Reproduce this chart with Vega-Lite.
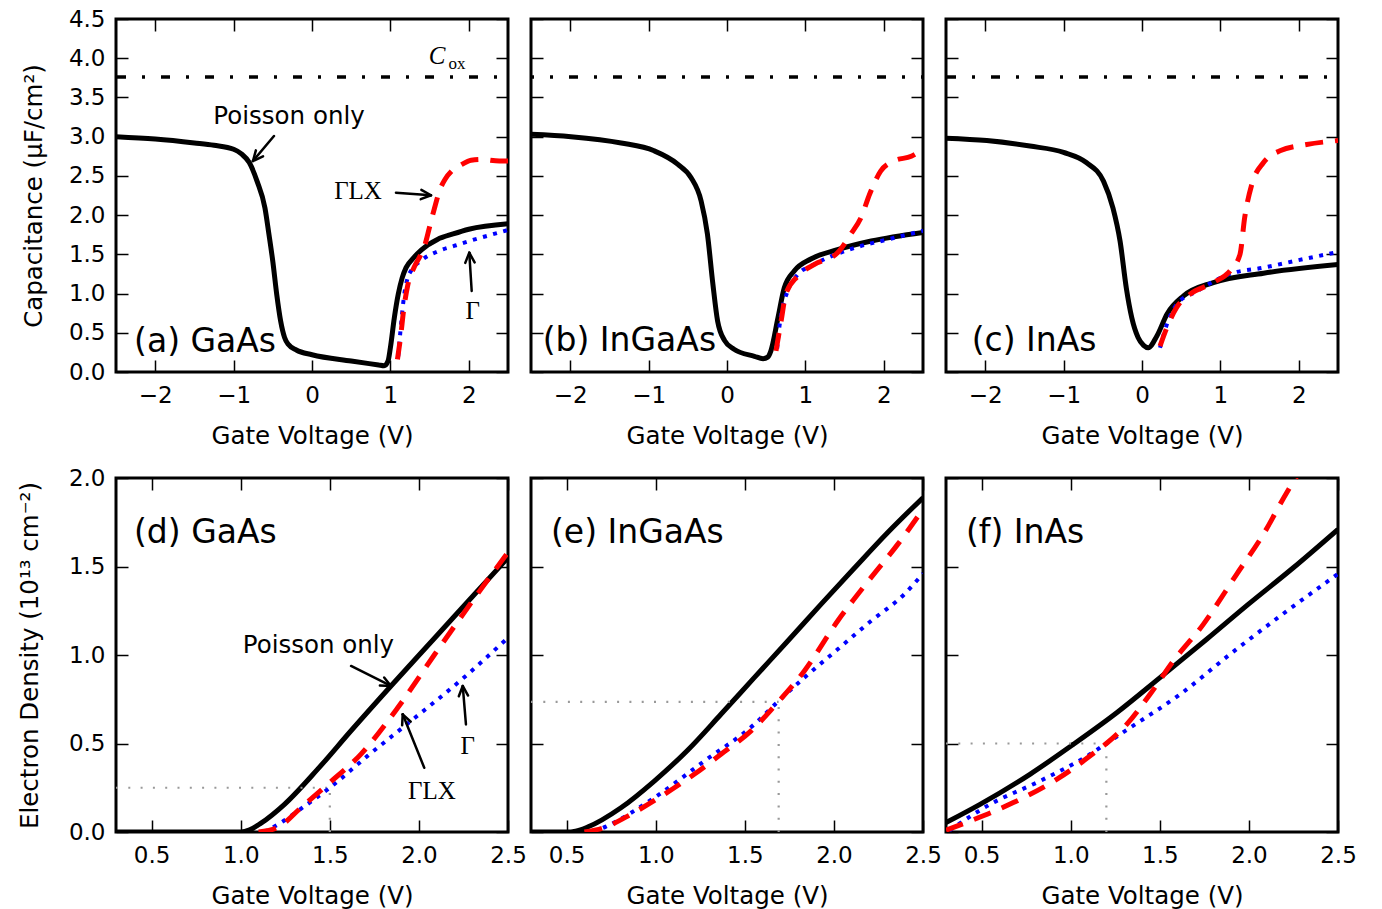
{
"$schema":"https://vega.github.io/schema/vega-lite/v6.json",
"background":"white",
"padding":{"left":15,"top":6,"right":0,"bottom":0},
"config":{
 "view":{"stroke":"black","strokeWidth":3},
 "axis":{"domain":false,"grid":false,"tickColor":"black","tickWidth":1.5,"tickSize":-12,"labelFont":"DejaVu Sans","labelFontSize":23,"labelColor":"black","titleFont":"DejaVu Sans","titleFontSize":24.5,"titleFontWeight":"normal","titleColor":"black","labelFlush":false,"labelOverlap":false,"labelBound":false,"labelSeparation":0},
 "axisX":{"labelPadding":24,"titlePadding":17},
 "axisY":{"labelPadding":23,"titlePadding":22},
 "text":{"font":"DejaVu Sans","color":"black"}
},
"datasets":{
 "curves":[
  {"p":"a","m":"P","v":-2.5,"y":3.0},{"p":"a","m":"P","v":-2.0,"y":2.97},{"p":"a","m":"P","v":-1.5,"y":2.92},{"p":"a","m":"P","v":-1.25,"y":2.89},{"p":"a","m":"P","v":-1.0,"y":2.84},{"p":"a","m":"P","v":-0.9,"y":2.78},{"p":"a","m":"P","v":-0.8,"y":2.67},{"p":"a","m":"P","v":-0.7,"y":2.43},{"p":"a","m":"P","v":-0.6,"y":2.09},{"p":"a","m":"P","v":-0.55,"y":1.76},{"p":"a","m":"P","v":-0.5,"y":1.41},{"p":"a","m":"P","v":-0.45,"y":0.99},{"p":"a","m":"P","v":-0.4,"y":0.65},{"p":"a","m":"P","v":-0.35,"y":0.44},{"p":"a","m":"P","v":-0.3,"y":0.35},{"p":"a","m":"P","v":-0.2,"y":0.28},{"p":"a","m":"P","v":0.0,"y":0.22},{"p":"a","m":"P","v":0.5,"y":0.14},{"p":"a","m":"P","v":0.85,"y":0.09},{"p":"a","m":"P","v":0.92,"y":0.08},{"p":"a","m":"P","v":0.97,"y":0.14},{"p":"a","m":"P","v":1.0,"y":0.31},{"p":"a","m":"P","v":1.05,"y":0.69},{"p":"a","m":"P","v":1.1,"y":0.99},{"p":"a","m":"P","v":1.15,"y":1.2},{"p":"a","m":"P","v":1.2,"y":1.33},{"p":"a","m":"P","v":1.3,"y":1.46},{"p":"a","m":"P","v":1.4,"y":1.56},{"p":"a","m":"P","v":1.6,"y":1.69},{"p":"a","m":"P","v":1.8,"y":1.76},{"p":"a","m":"P","v":2.0,"y":1.82},{"p":"a","m":"P","v":2.5,"y":1.89},
  {"p":"a","m":"L","v":1.09,"y":0.16},{"p":"a","m":"L","v":1.13,"y":0.45},{"p":"a","m":"L","v":1.17,"y":0.8},{"p":"a","m":"L","v":1.22,"y":1.1},{"p":"a","m":"L","v":1.3,"y":1.33},{"p":"a","m":"L","v":1.38,"y":1.48},{"p":"a","m":"L","v":1.44,"y":1.62},{"p":"a","m":"L","v":1.5,"y":1.85},{"p":"a","m":"L","v":1.56,"y":2.08},{"p":"a","m":"L","v":1.63,"y":2.32},{"p":"a","m":"L","v":1.7,"y":2.46},{"p":"a","m":"L","v":1.79,"y":2.57},{"p":"a","m":"L","v":1.9,"y":2.64},{"p":"a","m":"L","v":2.03,"y":2.7},{"p":"a","m":"L","v":2.16,"y":2.71},{"p":"a","m":"L","v":2.39,"y":2.69},{"p":"a","m":"L","v":2.5,"y":2.69},
  {"p":"a","m":"G","v":1.1,"y":0.2},{"p":"a","m":"G","v":1.126,"y":0.5},{"p":"a","m":"G","v":1.177,"y":0.99},{"p":"a","m":"G","v":1.22,"y":1.2},{"p":"a","m":"G","v":1.27,"y":1.3},{"p":"a","m":"G","v":1.39,"y":1.42},{"p":"a","m":"G","v":1.61,"y":1.54},{"p":"a","m":"G","v":1.82,"y":1.61},{"p":"a","m":"G","v":2.04,"y":1.68},{"p":"a","m":"G","v":2.25,"y":1.74},{"p":"a","m":"G","v":2.5,"y":1.81},
  {"p":"b","m":"P","v":-2.5,"y":3.03},{"p":"b","m":"P","v":-1.99,"y":3.0},{"p":"b","m":"P","v":-1.35,"y":2.92},{"p":"b","m":"P","v":-0.93,"y":2.82},{"p":"b","m":"P","v":-0.63,"y":2.65},{"p":"b","m":"P","v":-0.46,"y":2.48},{"p":"b","m":"P","v":-0.33,"y":2.18},{"p":"b","m":"P","v":-0.25,"y":1.76},{"p":"b","m":"P","v":-0.18,"y":1.12},{"p":"b","m":"P","v":-0.12,"y":0.65},{"p":"b","m":"P","v":-0.03,"y":0.4},{"p":"b","m":"P","v":0.09,"y":0.29},{"p":"b","m":"P","v":0.35,"y":0.2},{"p":"b","m":"P","v":0.46,"y":0.17},{"p":"b","m":"P","v":0.52,"y":0.19},{"p":"b","m":"P","v":0.56,"y":0.27},{"p":"b","m":"P","v":0.65,"y":0.69},{"p":"b","m":"P","v":0.73,"y":1.07},{"p":"b","m":"P","v":0.86,"y":1.29},{"p":"b","m":"P","v":1.07,"y":1.44},{"p":"b","m":"P","v":1.41,"y":1.56},{"p":"b","m":"P","v":1.84,"y":1.67},{"p":"b","m":"P","v":2.5,"y":1.78},
  {"p":"b","m":"L","v":0.625,"y":0.27},{"p":"b","m":"L","v":0.69,"y":0.65},{"p":"b","m":"L","v":0.75,"y":0.99},{"p":"b","m":"L","v":0.9,"y":1.22},{"p":"b","m":"L","v":1.11,"y":1.37},{"p":"b","m":"L","v":1.41,"y":1.52},{"p":"b","m":"L","v":1.58,"y":1.76},{"p":"b","m":"L","v":1.71,"y":1.97},{"p":"b","m":"L","v":1.82,"y":2.27},{"p":"b","m":"L","v":1.96,"y":2.56},{"p":"b","m":"L","v":2.13,"y":2.69},{"p":"b","m":"L","v":2.35,"y":2.75},{"p":"b","m":"L","v":2.5,"y":2.84},
  {"p":"b","m":"G","v":0.64,"y":0.3},{"p":"b","m":"G","v":0.67,"y":0.59},{"p":"b","m":"G","v":0.79,"y":1.07},{"p":"b","m":"G","v":0.9,"y":1.24},{"p":"b","m":"G","v":1.11,"y":1.37},{"p":"b","m":"G","v":1.62,"y":1.58},{"p":"b","m":"G","v":2.05,"y":1.69},{"p":"b","m":"G","v":2.5,"y":1.8},
  {"p":"c","m":"P","v":-2.5,"y":2.98},{"p":"c","m":"P","v":-1.98,"y":2.95},{"p":"c","m":"P","v":-1.43,"y":2.88},{"p":"c","m":"P","v":-1.0,"y":2.8},{"p":"c","m":"P","v":-0.71,"y":2.67},{"p":"c","m":"P","v":-0.49,"y":2.43},{"p":"c","m":"P","v":-0.37,"y":2.09},{"p":"c","m":"P","v":-0.28,"y":1.67},{"p":"c","m":"P","v":-0.2,"y":1.07},{"p":"c","m":"P","v":-0.13,"y":0.69},{"p":"c","m":"P","v":-0.05,"y":0.44},{"p":"c","m":"P","v":0.02,"y":0.34},{"p":"c","m":"P","v":0.08,"y":0.31},{"p":"c","m":"P","v":0.19,"y":0.46},{"p":"c","m":"P","v":0.32,"y":0.74},{"p":"c","m":"P","v":0.53,"y":0.97},{"p":"c","m":"P","v":0.91,"y":1.14},{"p":"c","m":"P","v":1.55,"y":1.26},{"p":"c","m":"P","v":2.5,"y":1.37},
  {"p":"c","m":"L","v":0.23,"y":0.33},{"p":"c","m":"L","v":0.315,"y":0.56},{"p":"c","m":"L","v":0.44,"y":0.82},{"p":"c","m":"L","v":0.61,"y":0.99},{"p":"c","m":"L","v":0.91,"y":1.14},{"p":"c","m":"L","v":1.14,"y":1.31},{"p":"c","m":"L","v":1.25,"y":1.5},{"p":"c","m":"L","v":1.31,"y":1.97},{"p":"c","m":"L","v":1.4,"y":2.39},{"p":"c","m":"L","v":1.55,"y":2.67},{"p":"c","m":"L","v":1.76,"y":2.82},{"p":"c","m":"L","v":2.1,"y":2.9},{"p":"c","m":"L","v":2.5,"y":2.95},
  {"p":"c","m":"G","v":0.23,"y":0.31},{"p":"c","m":"G","v":0.315,"y":0.6},{"p":"c","m":"G","v":0.44,"y":0.86},{"p":"c","m":"G","v":0.7,"y":1.03},{"p":"c","m":"G","v":1.12,"y":1.25},{"p":"c","m":"G","v":1.55,"y":1.33},{"p":"c","m":"G","v":1.97,"y":1.42},{"p":"c","m":"G","v":2.5,"y":1.53},
  {"p":"d","m":"P","v":0.3,"y":0},{"p":"d","m":"P","v":1.0,"y":0},{"p":"d","m":"P","v":1.05,"y":0.012},{"p":"d","m":"P","v":1.114,"y":0.05},{"p":"d","m":"P","v":1.244,"y":0.155},{"p":"d","m":"P","v":1.432,"y":0.355},{"p":"d","m":"P","v":1.619,"y":0.572},{"p":"d","m":"P","v":1.843,"y":0.825},{"p":"d","m":"P","v":2.086,"y":1.093},{"p":"d","m":"P","v":2.311,"y":1.342},{"p":"d","m":"P","v":2.5,"y":1.55},
  {"p":"d","m":"L","v":1.1,"y":0},{"p":"d","m":"L","v":1.207,"y":0.025},{"p":"d","m":"L","v":1.338,"y":0.137},{"p":"d","m":"L","v":1.488,"y":0.269},{"p":"d","m":"L","v":1.675,"y":0.44},{"p":"d","m":"L","v":1.881,"y":0.702},{"p":"d","m":"L","v":2.086,"y":1.0},{"p":"d","m":"L","v":2.311,"y":1.32},{"p":"d","m":"L","v":2.5,"y":1.58},
  {"p":"d","m":"G","v":1.13,"y":0},{"p":"d","m":"G","v":1.226,"y":0.053},{"p":"d","m":"G","v":1.35,"y":0.14},{"p":"d","m":"G","v":1.5,"y":0.25},{"p":"d","m":"G","v":1.712,"y":0.43},{"p":"d","m":"G","v":1.955,"y":0.627},{"p":"d","m":"G","v":2.274,"y":0.891},{"p":"d","m":"G","v":2.5,"y":1.098},
  {"p":"e","m":"P","v":0.3,"y":0},{"p":"e","m":"P","v":0.5,"y":0},{"p":"e","m":"P","v":0.55,"y":0.005},{"p":"e","m":"P","v":0.618,"y":0.028},{"p":"e","m":"P","v":0.805,"y":0.137},{"p":"e","m":"P","v":0.992,"y":0.288},{"p":"e","m":"P","v":1.179,"y":0.462},{"p":"e","m":"P","v":1.366,"y":0.665},{"p":"e","m":"P","v":1.553,"y":0.872},{"p":"e","m":"P","v":1.741,"y":1.079},{"p":"e","m":"P","v":1.927,"y":1.286},{"p":"e","m":"P","v":2.114,"y":1.49},{"p":"e","m":"P","v":2.302,"y":1.692},{"p":"e","m":"P","v":2.5,"y":1.889},
  {"p":"e","m":"L","v":0.6,"y":0},{"p":"e","m":"L","v":0.711,"y":0.025},{"p":"e","m":"L","v":0.861,"y":0.1},{"p":"e","m":"L","v":1.048,"y":0.213},{"p":"e","m":"L","v":1.216,"y":0.326},{"p":"e","m":"L","v":1.366,"y":0.439},{"p":"e","m":"L","v":1.535,"y":0.571},{"p":"e","m":"L","v":1.684,"y":0.731},{"p":"e","m":"L","v":1.834,"y":0.91},{"p":"e","m":"L","v":2.021,"y":1.192},{"p":"e","m":"L","v":2.208,"y":1.437},{"p":"e","m":"L","v":2.358,"y":1.625},{"p":"e","m":"L","v":2.5,"y":1.823},
  {"p":"e","m":"G","v":0.65,"y":0},{"p":"e","m":"G","v":0.72,"y":0.03},{"p":"e","m":"G","v":0.992,"y":0.194},{"p":"e","m":"G","v":1.273,"y":0.401},{"p":"e","m":"G","v":1.553,"y":0.608},{"p":"e","m":"G","v":1.684,"y":0.735},{"p":"e","m":"G","v":1.834,"y":0.872},{"p":"e","m":"G","v":2.021,"y":1.032},{"p":"e","m":"G","v":2.208,"y":1.192},{"p":"e","m":"G","v":2.395,"y":1.343},{"p":"e","m":"G","v":2.5,"y":1.46},
  {"p":"f","m":"P","v":0.3,"y":0.053},{"p":"f","m":"P","v":0.491,"y":0.156},{"p":"f","m":"P","v":0.771,"y":0.326},{"p":"f","m":"P","v":1.014,"y":0.495},{"p":"f","m":"P","v":1.258,"y":0.674},{"p":"f","m":"P","v":1.501,"y":0.872},{"p":"f","m":"P","v":1.763,"y":1.089},{"p":"f","m":"P","v":1.996,"y":1.286},{"p":"f","m":"P","v":2.249,"y":1.493},{"p":"f","m":"P","v":2.5,"y":1.71},
  {"p":"f","m":"L","v":0.3,"y":0.01},{"p":"f","m":"L","v":0.435,"y":0.062},{"p":"f","m":"L","v":0.678,"y":0.166},{"p":"f","m":"L","v":0.921,"y":0.297},{"p":"f","m":"L","v":1.146,"y":0.458},{"p":"f","m":"L","v":1.2,"y":0.5},{"p":"f","m":"L","v":1.314,"y":0.608},{"p":"f","m":"L","v":1.445,"y":0.778},{"p":"f","m":"L","v":1.576,"y":0.966},{"p":"f","m":"L","v":1.744,"y":1.173},{"p":"f","m":"L","v":1.931,"y":1.456},{"p":"f","m":"L","v":2.081,"y":1.682},{"p":"f","m":"L","v":2.212,"y":1.917},{"p":"f","m":"L","v":2.3,"y":2.06},
  {"p":"f","m":"G","v":0.32,"y":0.01},{"p":"f","m":"G","v":0.547,"y":0.156},{"p":"f","m":"G","v":0.827,"y":0.288},{"p":"f","m":"G","v":1.108,"y":0.439},{"p":"f","m":"G","v":1.2,"y":0.5},{"p":"f","m":"G","v":1.333,"y":0.589},{"p":"f","m":"G","v":1.614,"y":0.778},{"p":"f","m":"G","v":1.894,"y":1.004},{"p":"f","m":"G","v":2.175,"y":1.22},{"p":"f","m":"G","v":2.5,"y":1.458}
 ],
 "ann":[
  {"p":"a","k":"lab","t":"(a) GaAs","v":-2.27,"y":0.382},
  {"p":"b","k":"lab","t":"(b) InGaAs","v":-2.351,"y":0.395},
  {"p":"c","k":"lab","t":"(c) InAs","v":-2.172,"y":0.395},
  {"p":"d","k":"lab","t":"(d) GaAs","v":0.401,"y":1.691},
  {"p":"e","k":"lab","t":"(e) InGaAs","v":0.412,"y":1.691},
  {"p":"f","k":"lab","t":"(f) InAs","v":0.412,"y":1.691},
  {"p":"a","k":"po","t":"Poisson only","v":-0.293,"y":3.251},
  {"p":"d","k":"po","t":"Poisson only","v":1.436,"y":1.051},
  {"p":"a","k":"ser","t":"ΓLX","v":0.587,"y":2.307},
  {"p":"a","k":"ser","t":"Γ","v":2.05,"y":0.778},
  {"p":"d","k":"ser","t":"ΓLX","v":2.073,"y":0.232},
  {"p":"d","k":"ser","t":"Γ","v":2.274,"y":0.486},
  {"p":"a","k":"cC","t":"C","v":1.594,"y":4.029},
  {"p":"a","k":"cox","t":"ox","v":1.85,"y":3.927}
 ],
 "arrows":[
  {"p":"a","v":-0.485,"y":3.009,"v2":-0.753,"y2":2.69},{"p":"a","v":-0.753,"y":2.69,"v2":-0.625,"y2":2.749},{"p":"a","v":-0.753,"y":2.69,"v2":-0.716,"y2":2.825},
  {"p":"a","v":1.071,"y":2.286,"v2":1.518,"y2":2.253},{"p":"a","v":1.518,"y":2.253,"v2":1.395,"y2":2.322},{"p":"a","v":1.518,"y":2.253,"v2":1.387,"y2":2.203},
  {"p":"a","v":2.037,"y":1.033,"v2":2.006,"y2":1.521},{"p":"a","v":2.006,"y":1.521,"v2":1.955,"y2":1.391},{"p":"a","v":2.006,"y":1.521,"v2":2.074,"y2":1.397},
  {"p":"d","v":1.619,"y":0.938,"v2":1.843,"y2":0.825},{"p":"d","v":1.843,"y":0.825,"v2":1.805,"y2":0.873},{"p":"d","v":1.843,"y":0.825,"v2":1.781,"y2":0.827},
  {"p":"d","v":2.03,"y":0.363,"v2":1.909,"y2":0.665},{"p":"d","v":1.909,"y":0.665,"v2":1.906,"y2":0.603},{"p":"d","v":1.909,"y":0.665,"v2":1.954,"y2":0.623},
  {"p":"d","v":2.264,"y":0.608,"v2":2.246,"y2":0.825},{"p":"d","v":2.246,"y":0.825,"v2":2.224,"y2":0.767},{"p":"d","v":2.246,"y":0.825,"v2":2.276,"y2":0.771}
 ],
 "guides":[
  {"p":"d","v":0.3,"v2":1.5,"y":0.25,"y2":0.25},{"p":"d","v":1.5,"v2":1.5,"y":0,"y2":0.25},
  {"p":"e","v":0.3,"v2":1.69,"y":0.735,"y2":0.735},{"p":"e","v":1.69,"v2":1.69,"y":0,"y2":0.735},
  {"p":"f","v":0.3,"v2":1.2,"y":0.5,"y2":0.5},{"p":"f","v":1.2,"v2":1.2,"y":0,"y2":0.5}
 ],
 "cox":[{"y":3.76}]
},
"spacing":16,
"vconcat":[
 {"bounds":"flush","spacing":23,"hconcat":[
  {"width":392,"height":353,"resolve":{"axis":{"x":"independent","y":"independent"}},"layer":[
   {"layer":[
    {"data":{"name":"curves"},"transform":[{"filter":"datum.p=='a'&&datum.m=='P'"}],"mark":{"type":"line","color":"black","strokeWidth":5,"interpolate":"monotone","clip":true},"encoding":{"x":{"field":"v","type":"quantitative","scale":{"domain":[-2.5,2.5],"nice":false,"zero":false},"axis":{"values":[-2,-1,0,1,2],"tickCount":20,"format":"d","title":"Gate Voltage (V)","labelOverlap":false}},"y":{"field":"y","type":"quantitative","scale":{"domain":[0,4.5],"nice":false,"zero":false},"axis":{"values":[0,0.5,1,1.5,2,2.5,3,3.5,4,4.5],"tickCount":20,"format":".1f","title":"Capacitance (μF/cm²)","labelOverlap":false}}}},
    {"data":{"name":"cox"},"mark":{"type":"rule","color":"black","strokeWidth":3.5,"strokeDash":[3,16,9,16],"strokeDashOffset":33},"encoding":{"y":{"field":"y","type":"quantitative","scale":{"domain":[0,4.5],"nice":false,"zero":false}}}},
    {"data":{"name":"curves"},"transform":[{"filter":"datum.p=='a'&&datum.m=='G'"}],"mark":{"type":"line","color":"#0000ff","strokeWidth":4,"strokeDash":[4,6.5],"interpolate":"monotone","clip":true},"encoding":{"x":{"field":"v","type":"quantitative","scale":{"domain":[-2.5,2.5],"nice":false,"zero":false}},"y":{"field":"y","type":"quantitative","scale":{"domain":[0,4.5],"nice":false,"zero":false}}}},
    {"data":{"name":"arrows"},"transform":[{"filter":"datum.p=='a'"}],"mark":{"type":"rule","color":"black","strokeWidth":2.5,"strokeCap":"round"},"encoding":{"x":{"field":"v","type":"quantitative","scale":{"domain":[-2.5,2.5],"nice":false,"zero":false}},"y":{"field":"y","type":"quantitative","scale":{"domain":[0,4.5],"nice":false,"zero":false}},"x2":{"field":"v2"},"y2":{"field":"y2"}}},
    {"data":{"name":"ann"},"transform":[{"filter":"datum.p=='a'&&datum.k=='lab'"}],"mark":{"type":"text","fontSize":33,"align":"left","baseline":"middle"},"encoding":{"x":{"field":"v","type":"quantitative","scale":{"domain":[-2.5,2.5],"nice":false,"zero":false}},"y":{"field":"y","type":"quantitative","scale":{"domain":[0,4.5],"nice":false,"zero":false}},"text":{"field":"t"}}},
    {"data":{"name":"ann"},"transform":[{"filter":"datum.p=='a'&&datum.k=='po'"}],"mark":{"type":"text","fontSize":24.5,"align":"center","baseline":"middle"},"encoding":{"x":{"field":"v","type":"quantitative","scale":{"domain":[-2.5,2.5],"nice":false,"zero":false}},"y":{"field":"y","type":"quantitative","scale":{"domain":[0,4.5],"nice":false,"zero":false}},"text":{"field":"t"}}},
    {"data":{"name":"ann"},"transform":[{"filter":"datum.p=='a'&&datum.k=='ser'"}],"mark":{"type":"text","font":"Liberation Serif","fontSize":25,"align":"center","baseline":"middle"},"encoding":{"x":{"field":"v","type":"quantitative","scale":{"domain":[-2.5,2.5],"nice":false,"zero":false}},"y":{"field":"y","type":"quantitative","scale":{"domain":[0,4.5],"nice":false,"zero":false}},"text":{"field":"t"}}},
    {"data":{"name":"ann"},"transform":[{"filter":"datum.p=='a'&&datum.k=='cC'"}],"mark":{"type":"text","font":"Liberation Serif","fontStyle":"italic","fontSize":25,"align":"center","baseline":"middle"},"encoding":{"x":{"field":"v","type":"quantitative","scale":{"domain":[-2.5,2.5],"nice":false,"zero":false}},"y":{"field":"y","type":"quantitative","scale":{"domain":[0,4.5],"nice":false,"zero":false}},"text":{"field":"t"}}},
    {"data":{"name":"ann"},"transform":[{"filter":"datum.p=='a'&&datum.k=='cox'"}],"mark":{"type":"text","font":"Liberation Serif","fontSize":17,"align":"center","baseline":"middle"},"encoding":{"x":{"field":"v","type":"quantitative","scale":{"domain":[-2.5,2.5],"nice":false,"zero":false}},"y":{"field":"y","type":"quantitative","scale":{"domain":[0,4.5],"nice":false,"zero":false}},"text":{"field":"t"}}}
   ]},
   {"data":{"name":"curves"},"transform":[{"filter":"datum.p=='a'&&datum.m=='L'"}],"mark":{"type":"line","color":"#ff0000","strokeWidth":5,"strokeDash":[18,12],"interpolate":"monotone","clip":true},"encoding":{"x":{"field":"v","type":"quantitative","scale":{"domain":[-2.5,2.5],"nice":false,"zero":false},"axis":{"orient":"top","values":[-2,-1,0,1,2],"tickCount":20,"labels":false,"title":null}},"y":{"field":"y","type":"quantitative","scale":{"domain":[0,4.5],"nice":false,"zero":false},"axis":{"orient":"right","values":[0,0.5,1,1.5,2,2.5,3,3.5,4,4.5],"tickCount":20,"labels":false,"title":null}}}}
  ]},
  {"width":392,"height":353,"resolve":{"axis":{"x":"independent","y":"independent"}},"layer":[
   {"layer":[
    {"data":{"name":"curves"},"transform":[{"filter":"datum.p=='b'&&datum.m=='P'"}],"mark":{"type":"line","color":"black","strokeWidth":5,"interpolate":"monotone","clip":true},"encoding":{"x":{"field":"v","type":"quantitative","scale":{"domain":[-2.5,2.5],"nice":false,"zero":false},"axis":{"values":[-2,-1,0,1,2],"tickCount":20,"format":"d","title":"Gate Voltage (V)","labelOverlap":false}},"y":{"field":"y","type":"quantitative","scale":{"domain":[0,4.5],"nice":false,"zero":false},"axis":{"values":[0,0.5,1,1.5,2,2.5,3,3.5,4,4.5],"tickCount":20,"labels":false,"title":null}}}},
    {"data":{"name":"cox"},"mark":{"type":"rule","color":"black","strokeWidth":3.5,"strokeDash":[3,16,9,16],"strokeDashOffset":26},"encoding":{"y":{"field":"y","type":"quantitative","scale":{"domain":[0,4.5],"nice":false,"zero":false}}}},
    {"data":{"name":"curves"},"transform":[{"filter":"datum.p=='b'&&datum.m=='G'"}],"mark":{"type":"line","color":"#0000ff","strokeWidth":4,"strokeDash":[4,6.5],"interpolate":"monotone","clip":true},"encoding":{"x":{"field":"v","type":"quantitative","scale":{"domain":[-2.5,2.5],"nice":false,"zero":false}},"y":{"field":"y","type":"quantitative","scale":{"domain":[0,4.5],"nice":false,"zero":false}}}},
    {"data":{"name":"ann"},"transform":[{"filter":"datum.p=='b'&&datum.k=='lab'"}],"mark":{"type":"text","fontSize":33,"align":"left","baseline":"middle"},"encoding":{"x":{"field":"v","type":"quantitative","scale":{"domain":[-2.5,2.5],"nice":false,"zero":false}},"y":{"field":"y","type":"quantitative","scale":{"domain":[0,4.5],"nice":false,"zero":false}},"text":{"field":"t"}}}
   ]},
   {"data":{"name":"curves"},"transform":[{"filter":"datum.p=='b'&&datum.m=='L'"}],"mark":{"type":"line","color":"#ff0000","strokeWidth":5,"strokeDash":[18,12],"interpolate":"monotone","clip":true},"encoding":{"x":{"field":"v","type":"quantitative","scale":{"domain":[-2.5,2.5],"nice":false,"zero":false},"axis":{"orient":"top","values":[-2,-1,0,1,2],"tickCount":20,"labels":false,"title":null}},"y":{"field":"y","type":"quantitative","scale":{"domain":[0,4.5],"nice":false,"zero":false},"axis":{"orient":"right","values":[0,0.5,1,1.5,2,2.5,3,3.5,4,4.5],"tickCount":20,"labels":false,"title":null}}}}
  ]},
  {"width":392,"height":353,"resolve":{"axis":{"x":"independent","y":"independent"}},"layer":[
   {"layer":[
    {"data":{"name":"curves"},"transform":[{"filter":"datum.p=='c'&&datum.m=='P'"}],"mark":{"type":"line","color":"black","strokeWidth":5,"interpolate":"monotone","clip":true},"encoding":{"x":{"field":"v","type":"quantitative","scale":{"domain":[-2.5,2.5],"nice":false,"zero":false},"axis":{"values":[-2,-1,0,1,2],"tickCount":20,"format":"d","title":"Gate Voltage (V)","labelOverlap":false}},"y":{"field":"y","type":"quantitative","scale":{"domain":[0,4.5],"nice":false,"zero":false},"axis":{"values":[0,0.5,1,1.5,2,2.5,3,3.5,4,4.5],"tickCount":20,"labels":false,"title":null}}}},
    {"data":{"name":"cox"},"mark":{"type":"rule","color":"black","strokeWidth":3.5,"strokeDash":[3,16,9,16],"strokeDashOffset":33},"encoding":{"y":{"field":"y","type":"quantitative","scale":{"domain":[0,4.5],"nice":false,"zero":false}}}},
    {"data":{"name":"curves"},"transform":[{"filter":"datum.p=='c'&&datum.m=='G'"}],"mark":{"type":"line","color":"#0000ff","strokeWidth":4,"strokeDash":[4,6.5],"interpolate":"monotone","clip":true},"encoding":{"x":{"field":"v","type":"quantitative","scale":{"domain":[-2.5,2.5],"nice":false,"zero":false}},"y":{"field":"y","type":"quantitative","scale":{"domain":[0,4.5],"nice":false,"zero":false}}}},
    {"data":{"name":"ann"},"transform":[{"filter":"datum.p=='c'&&datum.k=='lab'"}],"mark":{"type":"text","fontSize":33,"align":"left","baseline":"middle"},"encoding":{"x":{"field":"v","type":"quantitative","scale":{"domain":[-2.5,2.5],"nice":false,"zero":false}},"y":{"field":"y","type":"quantitative","scale":{"domain":[0,4.5],"nice":false,"zero":false}},"text":{"field":"t"}}}
   ]},
   {"data":{"name":"curves"},"transform":[{"filter":"datum.p=='c'&&datum.m=='L'"}],"mark":{"type":"line","color":"#ff0000","strokeWidth":5,"strokeDash":[18,12],"interpolate":"monotone","clip":true},"encoding":{"x":{"field":"v","type":"quantitative","scale":{"domain":[-2.5,2.5],"nice":false,"zero":false},"axis":{"orient":"top","values":[-2,-1,0,1,2],"tickCount":20,"labels":false,"title":null}},"y":{"field":"y","type":"quantitative","scale":{"domain":[0,4.5],"nice":false,"zero":false},"axis":{"orient":"right","values":[0,0.5,1,1.5,2,2.5,3,3.5,4,4.5],"tickCount":20,"labels":false,"title":null}}}}
  ]}
 ]},
 {"bounds":"flush","spacing":23,"hconcat":[
  {"width":392,"height":354,"resolve":{"axis":{"x":"independent","y":"independent"}},"layer":[
   {"layer":[
    {"data":{"name":"curves"},"transform":[{"filter":"datum.p=='d'&&datum.m=='P'"}],"mark":{"type":"line","color":"black","strokeWidth":5,"interpolate":"monotone","clip":true},"encoding":{"x":{"field":"v","type":"quantitative","scale":{"domain":[0.3,2.5],"nice":false,"zero":false},"axis":{"values":[0.5,1,1.5,2,2.5],"tickCount":20,"format":".1f","title":"Gate Voltage (V)","labelOverlap":false}},"y":{"field":"y","type":"quantitative","scale":{"domain":[0,2],"nice":false,"zero":false},"axis":{"values":[0,0.5,1,1.5,2],"tickCount":20,"format":".1f","title":"Electron Density (10¹³ cm⁻²)","titlePadding":26,"labelOverlap":false}}}},
    {"data":{"name":"guides"},"transform":[{"filter":"datum.p=='d'"}],"mark":{"type":"rule","color":"#999999","strokeWidth":2.2,"strokeDash":[2,10.3]},"encoding":{"x":{"field":"v","type":"quantitative","scale":{"domain":[0.3,2.5],"nice":false,"zero":false}},"y":{"field":"y","type":"quantitative","scale":{"domain":[0,2],"nice":false,"zero":false}},"x2":{"field":"v2"},"y2":{"field":"y2"}}},
    {"data":{"name":"curves"},"transform":[{"filter":"datum.p=='d'&&datum.m=='G'"}],"mark":{"type":"line","color":"#0000ff","strokeWidth":4,"strokeDash":[4,6.5],"interpolate":"monotone","clip":true},"encoding":{"x":{"field":"v","type":"quantitative","scale":{"domain":[0.3,2.5],"nice":false,"zero":false}},"y":{"field":"y","type":"quantitative","scale":{"domain":[0,2],"nice":false,"zero":false}}}},
    {"data":{"name":"arrows"},"transform":[{"filter":"datum.p=='d'"}],"mark":{"type":"rule","color":"black","strokeWidth":2.5,"strokeCap":"round"},"encoding":{"x":{"field":"v","type":"quantitative","scale":{"domain":[0.3,2.5],"nice":false,"zero":false}},"y":{"field":"y","type":"quantitative","scale":{"domain":[0,2],"nice":false,"zero":false}},"x2":{"field":"v2"},"y2":{"field":"y2"}}},
    {"data":{"name":"ann"},"transform":[{"filter":"datum.p=='d'&&datum.k=='lab'"}],"mark":{"type":"text","fontSize":33,"align":"left","baseline":"middle"},"encoding":{"x":{"field":"v","type":"quantitative","scale":{"domain":[0.3,2.5],"nice":false,"zero":false}},"y":{"field":"y","type":"quantitative","scale":{"domain":[0,2],"nice":false,"zero":false}},"text":{"field":"t"}}},
    {"data":{"name":"ann"},"transform":[{"filter":"datum.p=='d'&&datum.k=='po'"}],"mark":{"type":"text","fontSize":24.5,"align":"center","baseline":"middle"},"encoding":{"x":{"field":"v","type":"quantitative","scale":{"domain":[0.3,2.5],"nice":false,"zero":false}},"y":{"field":"y","type":"quantitative","scale":{"domain":[0,2],"nice":false,"zero":false}},"text":{"field":"t"}}},
    {"data":{"name":"ann"},"transform":[{"filter":"datum.p=='d'&&datum.k=='ser'"}],"mark":{"type":"text","font":"Liberation Serif","fontSize":25,"align":"center","baseline":"middle"},"encoding":{"x":{"field":"v","type":"quantitative","scale":{"domain":[0.3,2.5],"nice":false,"zero":false}},"y":{"field":"y","type":"quantitative","scale":{"domain":[0,2],"nice":false,"zero":false}},"text":{"field":"t"}}}
   ]},
   {"data":{"name":"curves"},"transform":[{"filter":"datum.p=='d'&&datum.m=='L'"}],"mark":{"type":"line","color":"#ff0000","strokeWidth":5,"strokeDash":[18,12],"interpolate":"monotone","clip":true},"encoding":{"x":{"field":"v","type":"quantitative","scale":{"domain":[0.3,2.5],"nice":false,"zero":false},"axis":{"orient":"top","values":[0.5,1,1.5,2,2.5],"tickCount":20,"labels":false,"title":null}},"y":{"field":"y","type":"quantitative","scale":{"domain":[0,2],"nice":false,"zero":false},"axis":{"orient":"right","values":[0,0.5,1,1.5,2],"tickCount":20,"labels":false,"title":null}}}}
  ]},
  {"width":392,"height":354,"resolve":{"axis":{"x":"independent","y":"independent"}},"layer":[
   {"layer":[
    {"data":{"name":"curves"},"transform":[{"filter":"datum.p=='e'&&datum.m=='P'"}],"mark":{"type":"line","color":"black","strokeWidth":5,"interpolate":"monotone","clip":true},"encoding":{"x":{"field":"v","type":"quantitative","scale":{"domain":[0.3,2.5],"nice":false,"zero":false},"axis":{"values":[0.5,1,1.5,2,2.5],"tickCount":20,"format":".1f","title":"Gate Voltage (V)","labelOverlap":false}},"y":{"field":"y","type":"quantitative","scale":{"domain":[0,2],"nice":false,"zero":false},"axis":{"values":[0,0.5,1,1.5,2],"tickCount":20,"labels":false,"title":null}}}},
    {"data":{"name":"guides"},"transform":[{"filter":"datum.p=='e'"}],"mark":{"type":"rule","color":"#999999","strokeWidth":2.2,"strokeDash":[2,10.3]},"encoding":{"x":{"field":"v","type":"quantitative","scale":{"domain":[0.3,2.5],"nice":false,"zero":false}},"y":{"field":"y","type":"quantitative","scale":{"domain":[0,2],"nice":false,"zero":false}},"x2":{"field":"v2"},"y2":{"field":"y2"}}},
    {"data":{"name":"curves"},"transform":[{"filter":"datum.p=='e'&&datum.m=='G'"}],"mark":{"type":"line","color":"#0000ff","strokeWidth":4,"strokeDash":[4,6.5],"interpolate":"monotone","clip":true},"encoding":{"x":{"field":"v","type":"quantitative","scale":{"domain":[0.3,2.5],"nice":false,"zero":false}},"y":{"field":"y","type":"quantitative","scale":{"domain":[0,2],"nice":false,"zero":false}}}},
    {"data":{"name":"ann"},"transform":[{"filter":"datum.p=='e'&&datum.k=='lab'"}],"mark":{"type":"text","fontSize":33,"align":"left","baseline":"middle"},"encoding":{"x":{"field":"v","type":"quantitative","scale":{"domain":[0.3,2.5],"nice":false,"zero":false}},"y":{"field":"y","type":"quantitative","scale":{"domain":[0,2],"nice":false,"zero":false}},"text":{"field":"t"}}}
   ]},
   {"data":{"name":"curves"},"transform":[{"filter":"datum.p=='e'&&datum.m=='L'"}],"mark":{"type":"line","color":"#ff0000","strokeWidth":5,"strokeDash":[18,12],"interpolate":"monotone","clip":true},"encoding":{"x":{"field":"v","type":"quantitative","scale":{"domain":[0.3,2.5],"nice":false,"zero":false},"axis":{"orient":"top","values":[0.5,1,1.5,2,2.5],"tickCount":20,"labels":false,"title":null}},"y":{"field":"y","type":"quantitative","scale":{"domain":[0,2],"nice":false,"zero":false},"axis":{"orient":"right","values":[0,0.5,1,1.5,2],"tickCount":20,"labels":false,"title":null}}}}
  ]},
  {"width":392,"height":354,"resolve":{"axis":{"x":"independent","y":"independent"}},"layer":[
   {"layer":[
    {"data":{"name":"curves"},"transform":[{"filter":"datum.p=='f'&&datum.m=='P'"}],"mark":{"type":"line","color":"black","strokeWidth":5,"interpolate":"monotone","clip":true},"encoding":{"x":{"field":"v","type":"quantitative","scale":{"domain":[0.3,2.5],"nice":false,"zero":false},"axis":{"values":[0.5,1,1.5,2,2.5],"tickCount":20,"format":".1f","title":"Gate Voltage (V)","labelOverlap":false}},"y":{"field":"y","type":"quantitative","scale":{"domain":[0,2],"nice":false,"zero":false},"axis":{"values":[0,0.5,1,1.5,2],"tickCount":20,"labels":false,"title":null}}}},
    {"data":{"name":"guides"},"transform":[{"filter":"datum.p=='f'"}],"mark":{"type":"rule","color":"#999999","strokeWidth":2.2,"strokeDash":[2,10.3]},"encoding":{"x":{"field":"v","type":"quantitative","scale":{"domain":[0.3,2.5],"nice":false,"zero":false}},"y":{"field":"y","type":"quantitative","scale":{"domain":[0,2],"nice":false,"zero":false}},"x2":{"field":"v2"},"y2":{"field":"y2"}}},
    {"data":{"name":"curves"},"transform":[{"filter":"datum.p=='f'&&datum.m=='G'"}],"mark":{"type":"line","color":"#0000ff","strokeWidth":4,"strokeDash":[4,6.5],"interpolate":"monotone","clip":true},"encoding":{"x":{"field":"v","type":"quantitative","scale":{"domain":[0.3,2.5],"nice":false,"zero":false}},"y":{"field":"y","type":"quantitative","scale":{"domain":[0,2],"nice":false,"zero":false}}}},
    {"data":{"name":"ann"},"transform":[{"filter":"datum.p=='f'&&datum.k=='lab'"}],"mark":{"type":"text","fontSize":33,"align":"left","baseline":"middle"},"encoding":{"x":{"field":"v","type":"quantitative","scale":{"domain":[0.3,2.5],"nice":false,"zero":false}},"y":{"field":"y","type":"quantitative","scale":{"domain":[0,2],"nice":false,"zero":false}},"text":{"field":"t"}}}
   ]},
   {"data":{"name":"curves"},"transform":[{"filter":"datum.p=='f'&&datum.m=='L'"}],"mark":{"type":"line","color":"#ff0000","strokeWidth":5,"strokeDash":[18,12],"interpolate":"monotone","clip":true},"encoding":{"x":{"field":"v","type":"quantitative","scale":{"domain":[0.3,2.5],"nice":false,"zero":false},"axis":{"orient":"top","values":[0.5,1,1.5,2,2.5],"tickCount":20,"labels":false,"title":null}},"y":{"field":"y","type":"quantitative","scale":{"domain":[0,2],"nice":false,"zero":false},"axis":{"orient":"right","values":[0,0.5,1,1.5,2],"tickCount":20,"labels":false,"title":null}}}}
  ]}
 ]}
]
}
